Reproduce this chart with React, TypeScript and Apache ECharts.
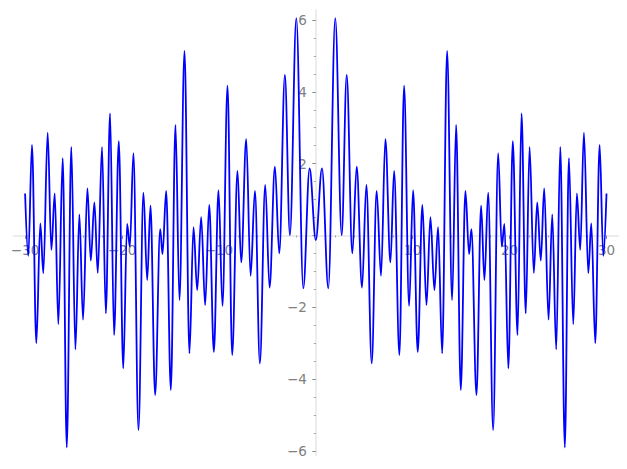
import React, { useEffect, useRef } from "react";
import * as echarts from "echarts";

// local extrema of the curve (x, y)
const X_VALUES = [
  -30, -29.67, -29.29, -28.84, -28.43, -28.12, -27.67, -27.29, -26.94, -26.57,
  -26.12, -25.7, -25.23, -24.81, -24.4, -24.02, -23.57, -23.22, -22.85, -22.5,
  -22.06, -21.67, -21.23, -20.82, -20.33, -19.87, -19.47, -19.19, -18.82, -18.3,
  -17.79, -17.4, -17.06, -16.58, -16.06, -15.82, -15.44, -14.96, -14.48, -14.07,
  -13.55, -13.04, -12.62, -12.24, -11.83, -11.42, -11.0, -10.52, -10.04, -9.63,
  -9.11, -8.63, -8.08, -7.7, -7.18, -6.73, -6.28, -5.77, -5.22, -4.77,
  -4.22, -3.77, -3.19, -2.67, -2.01, -1.29, -0.64, 0,
  0.64, 1.29, 2.01, 2.67, 3.19, 3.77, 4.22, 4.77, 5.22, 5.77,
  6.28, 6.73, 7.18, 7.7, 8.08, 8.63, 9.11, 9.63, 10.04, 10.52,
  11.0, 11.42, 11.83, 12.24, 12.62, 13.04, 13.55, 14.07, 14.48, 14.96,
  15.44, 15.82, 16.06, 16.58, 17.06, 17.4, 17.79, 18.3, 18.82, 19.19,
  19.47, 19.87, 20.33, 20.82, 21.23, 21.67, 22.06, 22.5, 22.85, 23.22,
  23.57, 24.02, 24.4, 24.81, 25.23, 25.7, 26.12, 26.57, 26.94, 27.29,
  27.67, 28.12, 28.43, 28.84, 29.29, 29.67, 30,
];
const Y_VALUES = [
  1.17, -0.57, 2.52, -3.0, 0.34, -1.05, 2.86, -0.4, 1.17, -2.47,
  2.15, -5.9, 2.47, -3.17, 0.59, -2.34, 1.31, -0.7, 0.92, -1.04,
  2.46, -2.17, 3.4, -2.77, 2.63, -3.7, 0.32, -0.31, 2.29, -5.42,
  1.19, -1.24, 0.83, -4.44, 0.18, -0.52, 1.24, -4.3, 3.08, -1.8,
  5.14, -3.28, 0.23, -1.52, 0.51, -1.94, 0.85, -3.24, 1.26, -1.96,
  4.17, -3.33, 1.8, -0.75, 2.68, -1.12, 1.24, -3.56, 1.41, -1.45,
  1.92, -0.5, 4.47, 0.01, 6.05, -1.47, 1.87, -0.13,
  1.87, -1.47, 6.05, 0.01, 4.47, -0.5, 1.92, -1.45, 1.41, -3.56,
  1.24, -1.12, 2.68, -0.75, 1.8, -3.33, 4.17, -1.96, 1.26, -3.24,
  0.85, -1.94, 0.51, -1.52, 0.23, -3.28, 5.14, -1.8, 3.08, -4.3,
  1.24, -0.52, 0.18, -4.44, 0.83, -1.24, 1.19, -5.42, 2.29, -0.31,
  0.32, -3.7, 2.63, -2.77, 3.4, -2.17, 2.46, -1.04, 0.92, -0.7,
  1.31, -2.34, 0.59, -3.17, 2.47, -5.9, 2.15, -2.47, 1.17, -0.4,
  2.86, -1.05, 0.34, -3.0, 2.52, -0.57, 1.17,
];

const X_TICK_MIN = -30;
const X_TICK_MAX = 30;
const X_TICK_STEP = 10;
const Y_TICK_MIN = -6;
const Y_TICK_MAX = 6;
const Y_TICK_STEP = 2;
const X_VIEW = [-31.2, 31.2];
const Y_VIEW = [-6.11, 6.28];

const fmt = (v: number) => (v === 0 ? "" : String(v).replace("-", "\u2212"));

export default function App() {
  const ref = useRef<HTMLDivElement>(null);
  useEffect(() => {
    if (!ref.current) return;
    const chart = echarts.init(ref.current, undefined, { renderer: "svg" });
    const pxPerX = 9.69;
    const pxPerY = 35.92;
    const ox = 315.8;
    const oy = 235.5;
    const spine = { color: "#e6e6e6", width: 1.5 };
    const tickLine = { color: "#8a8a8a", width: 1 };
    const labelStyle = {
      color: "#808080",
      fontFamily: "DejaVu Sans",
      fontSize: 13.5,
      formatter: fmt,
    };
    const g0 = {
      left: ox + X_TICK_MIN * pxPerX,
      width: (X_TICK_MAX - X_TICK_MIN) * pxPerX,
      top: oy - Y_TICK_MAX * pxPerY,
      height: (Y_TICK_MAX - Y_TICK_MIN) * pxPerY,
    };
    // shift the tick axes from the grid edges onto the zero lines
    const xOffset = oy - (g0.top + g0.height);
    const yOffset = g0.left - ox;
    const data = X_VALUES.map((x, i) => [x, Y_VALUES[i]]);
    chart.setOption({
      animation: false,
      backgroundColor: "#ffffff",
      grid: [
        g0,
        {
          left: ox + X_VIEW[0] * pxPerX,
          width: (X_VIEW[1] - X_VIEW[0]) * pxPerX,
          top: oy - Y_VIEW[1] * pxPerY,
          height: (Y_VIEW[1] - Y_VIEW[0]) * pxPerY,
        },
      ],
      xAxis: [
        {
          type: "value",
          gridIndex: 0,
          position: "bottom",
          offset: xOffset,
          min: X_TICK_MIN,
          max: X_TICK_MAX,
          interval: X_TICK_STEP,
          axisLine: { show: false, onZero: false },
          axisTick: { show: true, length: 3.5, lineStyle: tickLine },
          minorTick: { show: true, splitNumber: 5, length: 2, lineStyle: { ...tickLine, width: 0.8 } },
          axisLabel: { ...labelStyle, margin: 7 },
          splitLine: { show: false },
        },
        {
          type: "value",
          gridIndex: 1,
          min: X_VIEW[0],
          max: X_VIEW[1],
          axisLine: { show: true, onZero: true, lineStyle: spine },
          axisTick: { show: false },
          axisLabel: { show: false },
          splitLine: { show: false },
        },
      ],
      yAxis: [
        {
          type: "value",
          gridIndex: 0,
          position: "left",
          offset: yOffset,
          min: Y_TICK_MIN,
          max: Y_TICK_MAX,
          interval: Y_TICK_STEP,
          axisLine: { show: false, onZero: false },
          axisTick: { show: true, length: 3.5, lineStyle: tickLine },
          minorTick: { show: true, splitNumber: 4, length: 2, lineStyle: { ...tickLine, width: 0.8 } },
          axisLabel: { ...labelStyle, margin: 9 },
          splitLine: { show: false },
        },
        {
          type: "value",
          gridIndex: 1,
          min: Y_VIEW[0],
          max: Y_VIEW[1],
          axisLine: { show: true, onZero: true, lineStyle: spine },
          axisTick: { show: false },
          axisLabel: { show: false },
          splitLine: { show: false },
        },
      ],
      series: [
        {
          type: "line",
          xAxisIndex: 1,
          yAxisIndex: 1,
          data,
          smooth: 0.36,
          smoothMonotone: "x",
          showSymbol: false,
          symbol: "none",
          lineStyle: { color: "#0000ff", width: 1.8 },
          z: 5,
        },
      ],
    });
    return () => chart.dispose();
  }, []);
  return (
    <div
      ref={ref}
      style={{ position: "absolute", left: 0, top: 0, width: 627, height: 469, background: "#fff" }}
    />
  );
}
